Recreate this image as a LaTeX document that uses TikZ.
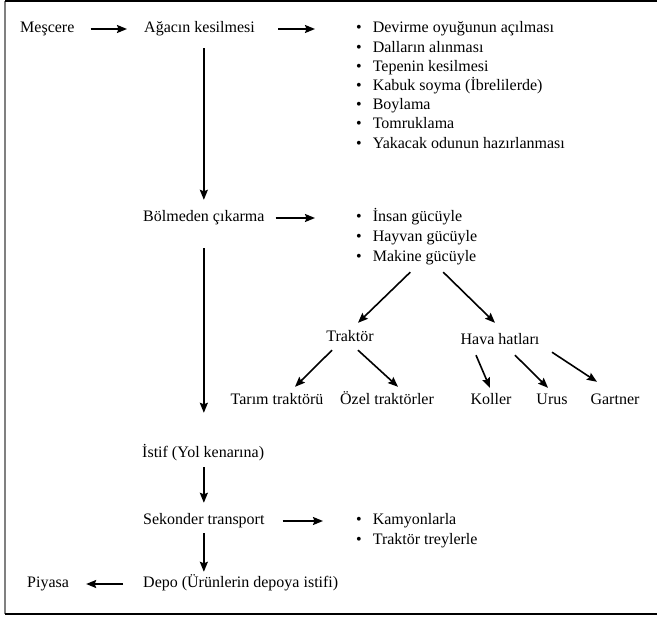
\documentclass[tikz,border=0pt]{standalone}
\usepackage{fontspec}
\setmainfont{Liberation Serif}
\usetikzlibrary{arrows.meta}
\begin{document}
\begin{tikzpicture}[x=1pt,y=-1pt,line join=round,font=\fontsize{16pt}{19pt}\selectfont,>={Stealth[length=10pt,width=8pt,inset=1.5pt]},
  txt/.style={inner sep=0pt,text height=11pt,text depth=3pt,anchor=base west},
  arr/.style={->,line width=1.6pt}]
    \useasboundingbox (0,0) rectangle (657,617);
    \draw[gray,line width=1.4pt] (5,1)--(5,614);
    \draw[line width=1.6pt] (5,1)--(657,1) (5,614)--(657,614);
    \node[txt] (mes) at (20,33) {Meşcere};
    \node[txt] (agac) at (144,33) {Ağacın kesilmesi};
    \foreach \t [count=\i] in {Devirme oyuğunun açılması,Dalların alınması,Tepenin kesilmesi,Kabuk soyma (İbrelilerde),Boylama,Tomruklama,Yakacak odunun hazırlanması}
    \node[txt] (kes\i) at (356,13.8+19.2*\i) {\textbullet\hspace{11pt}\t};
    \node[txt] (bolm) at (143,222) {Bölmeden çıkarma};
    \foreach \t [count=\i] in {İnsan gücüyle,Hayvan gücüyle,Makine gücüyle}
    \node[txt] (guc\i) at (356,202+20*\i) {\textbullet\hspace{11pt}\t};
    \node[txt,anchor=base] (trak) at (350,342) {Traktör};
    \node[txt,anchor=base] (hava) at (500,345) {Hava hatları};
    \node[txt,anchor=base] (tarim) at (277,405) {Tarım traktörü};
    \node[txt,anchor=base] (ozel) at (387,405) {Özel traktörler};
    \node[txt,anchor=base] (koller) at (491,405) {Koller};
    \node[txt,anchor=base] (urus) at (552,405) {Urus};
    \node[txt,anchor=base] (gartner) at (615,405) {Gartner};
    \node[txt] (istif) at (142,458) {İstif (Yol kenarına)};
    \node[txt] (sek) at (143,525) {Sekonder transport};
    \node[txt] (kam1) at (356,525) {\textbullet\hspace{11pt}Kamyonlarla};
    \node[txt] (kam2) at (356,545) {\textbullet\hspace{11pt}Traktör treylerle};
    \node[txt] (depo) at (143,588) {Depo (Ürünlerin depoya istifi)};
    \node[txt] (piyasa) at (27,588) {Piyasa};
    \draw[arr,shorten <=16pt,shorten >=17pt] (mes) -- (agac);
    \draw[arr,shorten <=23pt,shorten >=41pt] (agac) -- (kes1);
    \draw[arr,shorten <=12pt,shorten >=11pt] (agac.south -| bolm) -- (bolm.north);
    \draw[arr,shorten <=11pt,shorten >=41pt] (bolm) -- (guc1);
    \draw[arr,shorten <=23pt,shorten >=34pt] (bolm.south) -- (bolm.south |- istif.north);
    \draw[arr] ([xshift=-6pt,yshift=-7pt]guc3.south) -- ([xshift=8pt,yshift=8pt]trak.north);
    \draw[arr] ([xshift=27pt,yshift=-7pt]guc3.south) -- ([xshift=-5pt,yshift=11pt]hava.north);
    \draw[arr] ([xshift=-18pt,yshift=-5pt]trak.south) -- ([xshift=18pt,yshift=7pt]tarim.north);
    \draw[arr] ([xshift=8pt,yshift=-5pt]trak.south) -- ([xshift=11pt,yshift=7pt]ozel.north);
    \draw[arr] ([xshift=-24pt,yshift=-7pt]hava.south) -- ([xshift=-1pt,yshift=6pt]koller.north);
    \draw[arr] ([xshift=15pt,yshift=-7pt]hava.south) -- ([xshift=-4pt,yshift=6pt]urus.north);
    \draw[arr] ([xshift=52pt,yshift=-4pt]hava.south) -- ([xshift=-18pt,yshift=12pt]gartner.north);
    \draw[arr,shorten <=6pt,shorten >=11pt] (istif.south -| sek) -- (sek.north);
    \draw[arr,shorten <=18pt,shorten >=33pt] (sek) -- (kam1);
    \draw[arr,shorten <=5pt,shorten >=5pt] (sek.south) -- (sek.south |- depo.north);
    \draw[arr,shorten <=20pt,shorten >=17pt] (depo) -- (piyasa);
\end{tikzpicture}
\end{document}
